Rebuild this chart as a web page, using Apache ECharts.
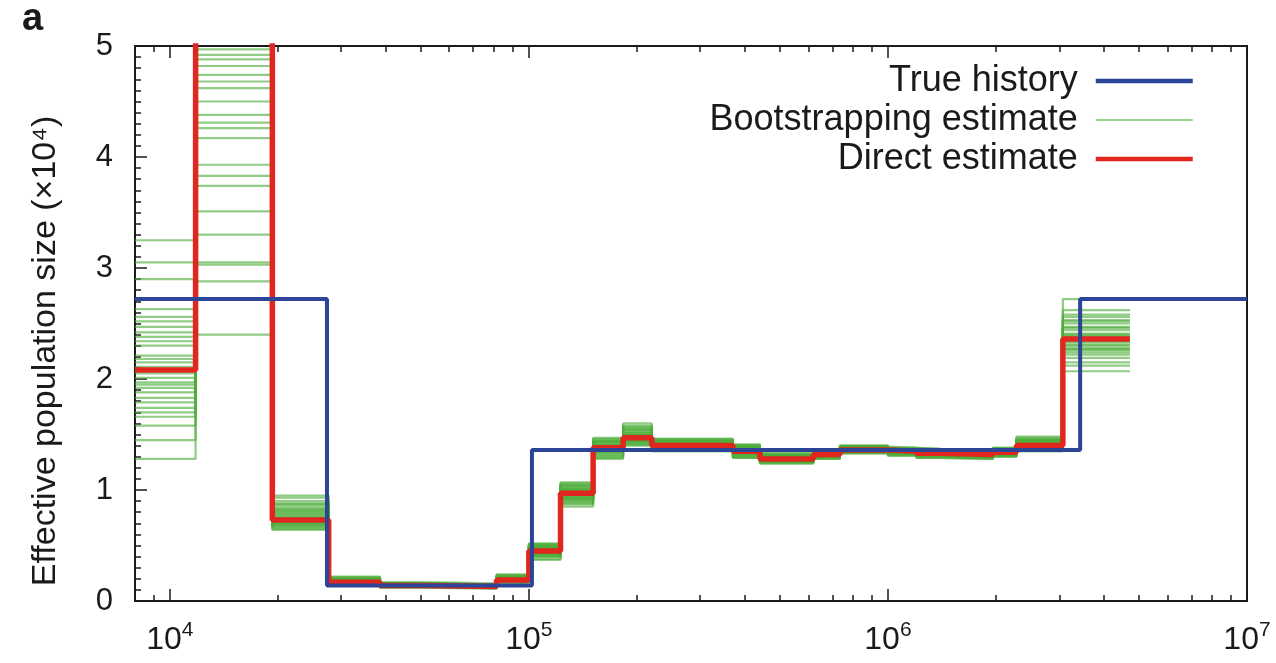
<!DOCTYPE html>
<html><head><meta charset="utf-8">
<script src="https://cdn.jsdelivr.net/npm/echarts@6/dist/echarts.min.js"></script>
<style>html,body{margin:0;padding:0;background:#fff}#chart{width:1276px;height:663px}</style>
</head><body><div id="chart"></div>
<script>
const FONT = "'Liberation Sans', Arial, Helvetica, sans-serif";
const TXT = '#1a1a1a';
const BLUE = '#2c4596';
const RED = '#e0261f';
const GREEN = 'rgba(76,172,56,0.62)';

// Legend / series names
const seriesNames = ['True history', 'Bootstrapping estimate', 'Direct estimate'];

// x-axis ticks
const xTickValues = [1e4, 1e5, 1e6, 1e7];
const xTickExponents = ['4', '5', '6', '7'];
const xMinorValues = [9000, 2e4, 3e4, 4e4, 5e4, 6e4, 7e4, 8e4, 9e4,
  2e5, 3e5, 4e5, 5e5, 6e5, 7e5, 8e5, 9e5,
  2e6, 3e6, 4e6, 5e6, 6e6, 7e6, 8e6, 9e6];

// True history (step function: edges + values)
const trueEdges = [8000, 27400, 102000, 3430000, 10000000];
const trueValues = [2.72, 0.14, 1.36, 2.72];

// Estimate time intervals (shared by direct and bootstrap estimates)
const estEdges = [8000, 11800, 19300, 27700, 38500, 50000, 81300, 100000, 122500, 151000,
  183000, 220000, 370000, 440000, 620000, 735000, 1000000, 1200000, 1400000,
  1960000, 2280000, 3070000, 4720000];

// Direct estimate values per interval
const directValues = [2.08, 7.0, 0.73, 0.17, 0.14, 0.13, 0.19, 0.45, 0.97, 1.38, 1.47,
  1.40, 1.35, 1.28, 1.32, 1.36, 1.35, 1.33, 1.32, 1.34, 1.40, 2.36];

// Bootstrap estimates: one array per interval, one value per bootstrap run
const bootS00 = [2.21, 1.74, 2.63, 1.92, 3.25, 2.05, 1.58, 2.38, 1.83, 2.47, 1.28, 2.15, 2.72, 1.97, 1.66, 2.30, 3.05, 1.88, 2.56, 2.11, 1.45, 2.42, 1.79, 2.90, 2.01, 2.34, 1.70, 2.18, 2.52, 1.95];
const bootS01 = [4.62, 5.40, 3.05, 6.10, 4.31, 2.40, 5.80, 4.88, 3.74, 7.20, 4.17, 4.97, 2.88, 5.25, 4.50, 3.51, 6.60, 4.38, 3.30, 4.92, 5.60, 3.93, 4.68, 3.03, 6.90, 4.26, 4.82, 3.83, 5.10, 4.74];
const bootS02 = [0.78, 0.70, 0.86, 0.66, 0.95, 0.74, 0.68, 0.81, 0.72, 0.90, 0.64, 0.76, 0.84, 0.69, 0.80, 0.73, 0.88, 0.67, 0.79, 0.71, 0.93, 0.75, 0.83, 0.65, 0.77, 0.82, 0.70, 0.87, 0.74, 0.68];
const bootS03 = [0.18, 0.16, 0.20, 0.15, 0.19, 0.17, 0.21, 0.16, 0.18, 0.19, 0.15, 0.17, 0.20, 0.16, 0.18, 0.22, 0.17, 0.19, 0.16, 0.18, 0.15, 0.20, 0.17, 0.18, 0.16, 0.19, 0.17, 0.21, 0.18, 0.16];
const bootS04 = [0.15, 0.13, 0.16, 0.14, 0.15, 0.12, 0.14, 0.16, 0.13, 0.15, 0.14, 0.17, 0.13, 0.15, 0.14, 0.16, 0.12, 0.15, 0.14, 0.13, 0.16, 0.14, 0.15, 0.13, 0.14, 0.16, 0.15, 0.13, 0.14, 0.15];
const bootS05 = [0.14, 0.12, 0.15, 0.13, 0.14, 0.11, 0.13, 0.15, 0.12, 0.14, 0.13, 0.16, 0.12, 0.14, 0.13, 0.15, 0.12, 0.14, 0.13, 0.12, 0.15, 0.13, 0.14, 0.12, 0.13, 0.15, 0.14, 0.12, 0.13, 0.14];
const bootS06 = [0.20, 0.18, 0.22, 0.17, 0.21, 0.19, 0.23, 0.18, 0.20, 0.21, 0.16, 0.19, 0.22, 0.18, 0.20, 0.24, 0.19, 0.21, 0.17, 0.20, 0.18, 0.22, 0.19, 0.20, 0.17, 0.21, 0.19, 0.23, 0.20, 0.18];
const bootS07 = [0.47, 0.42, 0.50, 0.40, 0.48, 0.44, 0.52, 0.41, 0.46, 0.49, 0.38, 0.45, 0.51, 0.43, 0.47, 0.37, 0.44, 0.49, 0.42, 0.46, 0.40, 0.50, 0.45, 0.48, 0.41, 0.47, 0.43, 0.51, 0.46, 0.44];
const bootS08 = [0.99, 0.92, 1.04, 0.88, 1.01, 0.95, 1.07, 0.90, 0.98, 1.02, 0.85, 0.96, 1.05, 0.93, 1.00, 0.87, 0.97, 1.03, 0.91, 0.99, 0.89, 1.06, 0.94, 1.01, 0.92, 0.98, 0.95, 1.04, 0.96, 0.93];
const bootS09 = [1.40, 1.34, 1.44, 1.30, 1.41, 1.37, 1.46, 1.32, 1.39, 1.43, 1.28, 1.38, 1.45, 1.35, 1.42, 1.31, 1.39, 1.44, 1.33, 1.40, 1.29, 1.47, 1.36, 1.41, 1.34, 1.39, 1.37, 1.43, 1.38, 1.35];
const bootS10 = [1.50, 1.44, 1.55, 1.41, 1.52, 1.47, 1.58, 1.43, 1.49, 1.54, 1.40, 1.48, 1.57, 1.45, 1.51, 1.42, 1.49, 1.56, 1.44, 1.50, 1.41, 1.60, 1.46, 1.52, 1.43, 1.49, 1.47, 1.54, 1.48, 1.45];
const bootS11 = [1.42, 1.38, 1.44, 1.36, 1.43, 1.40, 1.46, 1.37, 1.41, 1.44, 1.35, 1.40, 1.45, 1.38, 1.42, 1.36, 1.41, 1.44, 1.37, 1.42, 1.35, 1.46, 1.39, 1.43, 1.38, 1.41, 1.40, 1.44, 1.40, 1.38];
const bootS12 = [1.37, 1.32, 1.39, 1.30, 1.38, 1.35, 1.41, 1.31, 1.36, 1.39, 1.29, 1.35, 1.40, 1.33, 1.37, 1.30, 1.36, 1.39, 1.32, 1.37, 1.29, 1.41, 1.34, 1.38, 1.32, 1.36, 1.35, 1.39, 1.35, 1.33];
const bootS13 = [1.29, 1.26, 1.31, 1.25, 1.30, 1.28, 1.33, 1.25, 1.29, 1.31, 1.24, 1.28, 1.32, 1.26, 1.30, 1.25, 1.29, 1.31, 1.26, 1.29, 1.24, 1.33, 1.27, 1.30, 1.26, 1.29, 1.28, 1.31, 1.28, 1.26];
const bootS14 = [1.33, 1.30, 1.35, 1.29, 1.34, 1.32, 1.36, 1.29, 1.33, 1.35, 1.28, 1.32, 1.35, 1.30, 1.34, 1.29, 1.33, 1.35, 1.30, 1.33, 1.28, 1.36, 1.31, 1.34, 1.30, 1.33, 1.32, 1.35, 1.32, 1.30];
const bootS15 = [1.37, 1.35, 1.39, 1.34, 1.38, 1.36, 1.40, 1.34, 1.37, 1.39, 1.33, 1.36, 1.39, 1.35, 1.38, 1.34, 1.37, 1.39, 1.35, 1.37, 1.33, 1.40, 1.36, 1.38, 1.35, 1.37, 1.36, 1.39, 1.36, 1.35];
const bootS16 = [1.36, 1.33, 1.37, 1.32, 1.36, 1.35, 1.38, 1.32, 1.35, 1.37, 1.31, 1.34, 1.38, 1.33, 1.36, 1.32, 1.35, 1.37, 1.33, 1.36, 1.31, 1.38, 1.34, 1.36, 1.33, 1.35, 1.34, 1.37, 1.35, 1.33];
const bootS17 = [1.34, 1.31, 1.36, 1.30, 1.35, 1.33, 1.37, 1.30, 1.34, 1.36, 1.29, 1.33, 1.36, 1.31, 1.35, 1.30, 1.34, 1.36, 1.31, 1.34, 1.29, 1.37, 1.32, 1.35, 1.31, 1.34, 1.33, 1.36, 1.33, 1.31];
const bootS18 = [1.33, 1.30, 1.35, 1.29, 1.34, 1.32, 1.36, 1.29, 1.33, 1.35, 1.28, 1.32, 1.35, 1.30, 1.34, 1.29, 1.33, 1.35, 1.30, 1.33, 1.28, 1.36, 1.31, 1.34, 1.30, 1.33, 1.32, 1.35, 1.32, 1.30];
const bootS19 = [1.35, 1.32, 1.37, 1.31, 1.36, 1.34, 1.38, 1.31, 1.35, 1.37, 1.30, 1.34, 1.37, 1.32, 1.36, 1.31, 1.35, 1.37, 1.32, 1.35, 1.30, 1.38, 1.33, 1.36, 1.32, 1.35, 1.34, 1.37, 1.34, 1.32];
const bootS20 = [1.42, 1.38, 1.45, 1.36, 1.44, 1.40, 1.47, 1.37, 1.42, 1.45, 1.35, 1.41, 1.46, 1.38, 1.43, 1.36, 1.42, 1.45, 1.38, 1.43, 1.35, 1.48, 1.40, 1.44, 1.38, 1.42, 1.41, 1.45, 1.41, 1.39];
const bootS21 = [2.41, 2.28, 2.52, 2.19, 2.47, 2.35, 2.62, 2.24, 2.38, 2.50, 2.12, 2.33, 2.56, 2.26, 2.44, 2.07, 2.36, 2.53, 2.22, 2.40, 2.15, 2.72, 2.31, 2.46, 2.27, 2.39, 2.34, 2.58, 2.37, 2.30];

const bootSegments = [bootS00, bootS01, bootS02, bootS03, bootS04, bootS05, bootS06, bootS07,
  bootS08, bootS09, bootS10, bootS11, bootS12, bootS13, bootS14, bootS15, bootS16, bootS17,
  bootS18, bootS19, bootS20, bootS21];

function stepData(edges, values) {
  const pts = values.map((v, i) => [edges[i], v]);
  pts.push([edges[edges.length - 1], values[values.length - 1]]);
  return pts;
}

const series = [];
const nRuns = bootS00.length;
for (let r = 0; r < nRuns; r++) {
  series.push({
    type: 'line', name: seriesNames[1], step: 'end', symbol: 'none', showSymbol: false,
    data: stepData(estEdges, bootSegments.map(s => s[r])),
    lineStyle: { color: GREEN, width: 2.2 }, itemStyle: { color: GREEN },
    z: 2, silent: true, animation: false
  });
}
series.push({
  type: 'line', name: seriesNames[2], step: 'end', symbol: 'none', showSymbol: false,
  data: stepData(estEdges, directValues),
  lineStyle: { color: RED, width: 5.5 }, itemStyle: { color: RED },
  z: 3, silent: true, animation: false
});
series.push({
  type: 'line', name: seriesNames[0], step: 'end', symbol: 'none', showSymbol: false,
  data: stepData(trueEdges, trueValues),
  lineStyle: { color: BLUE, width: 4 }, itemStyle: { color: BLUE },
  z: 4, silent: true, animation: false
});

function expLabel(val) {
  let best = 0, bd = Infinity;
  xTickValues.forEach((t, i) => {
    const d = Math.abs(Math.log10(val) - Math.log10(t));
    if (d < bd) { bd = d; best = i; }
  });
  return '{b|10}{s|' + xTickExponents[best] + '}';
}

const gridBox = { left: 135, right: 29, top: 46, bottom: 62 };
const tickStyle = { color: TXT, width: 1.5 };

const chart = echarts.init(document.getElementById('chart'), null, { renderer: 'canvas' });
chart.setOption({
  animation: false,
  backgroundColor: '#fff',
  textStyle: { fontFamily: FONT },
  grid: [
    Object.assign({ show: true, borderColor: TXT, borderWidth: 2, backgroundColor: 'transparent' }, gridBox),
    Object.assign({ show: false }, gridBox)
  ],
  legend: {
    orient: 'vertical', right: 76, top: 58, align: 'right',
    itemWidth: 97, itemHeight: 14, itemGap: 3, selectedMode: false,
    itemStyle: { opacity: 0 },
    textStyle: { fontSize: 36, color: TXT, fontFamily: FONT, padding: [0, 13, 0, 0] },
    data: [
      { name: seriesNames[0], lineStyle: { width: 4.5, color: BLUE } },
      { name: seriesNames[1], lineStyle: { width: 2, color: 'rgba(76,172,56,0.55)' } },
      { name: seriesNames[2], lineStyle: { width: 4.5, color: RED } }
    ]
  },
  xAxis: [
    { type: 'log', logBase: 10, min: 8000, max: 1e7, gridIndex: 0, position: 'bottom',
      axisLine: { show: false }, splitLine: { show: false },
      axisTick: { show: true, inside: true, length: 12, lineStyle: tickStyle, customValues: xTickValues },
      axisLabel: { show: true, margin: 19, customValues: xTickValues, formatter: expLabel, color: TXT,
        rich: { b: { fontSize: 32, fontFamily: FONT, color: TXT }, s: { fontSize: 21, fontFamily: FONT, color: TXT, padding: [0, 0, 19, 0] } } } },
    { type: 'log', logBase: 10, min: 8000, max: 1e7, gridIndex: 0, position: 'top',
      axisLine: { show: false }, splitLine: { show: false },
      axisTick: { show: true, inside: true, length: 12, lineStyle: tickStyle, customValues: xTickValues },
      axisLabel: { show: false } },
    { type: 'log', logBase: 10, min: 8000, max: 1e7, gridIndex: 1, position: 'bottom',
      axisLine: { show: false }, splitLine: { show: false },
      axisTick: { show: true, inside: true, length: 6, lineStyle: tickStyle, customValues: xMinorValues },
      axisLabel: { show: false } },
    { type: 'log', logBase: 10, min: 8000, max: 1e7, gridIndex: 1, position: 'top',
      axisLine: { show: false }, splitLine: { show: false },
      axisTick: { show: true, inside: true, length: 6, lineStyle: tickStyle, customValues: xMinorValues },
      axisLabel: { show: false } }
  ],
  yAxis: [
    { type: 'value', min: 0, max: 5, interval: 1, gridIndex: 0,
      axisLine: { show: false }, splitLine: { show: false },
      axisTick: { show: true, inside: true, length: 12, lineStyle: tickStyle },
      minorTick: { show: true, splitNumber: 10, length: 6, lineStyle: tickStyle },
      axisLabel: { fontSize: 31, color: TXT, margin: 22, fontFamily: FONT } },
    { type: 'value', min: 0, max: 5, gridIndex: 1, show: false }
  ],
  graphic: [
    { type: 'text', x: 22, y: 1, style: { text: 'a', fill: TXT, font: 'bold 38px ' + FONT } },
    { type: 'text', x: 46, y: 351, rotation: Math.PI / 2,
      style: { text: 'Effective population size (×10⁴)', fontSize: 34, fontFamily: FONT, fill: TXT, align: 'center', verticalAlign: 'middle' } }
  ],
  series: series
});
</script></body></html>
